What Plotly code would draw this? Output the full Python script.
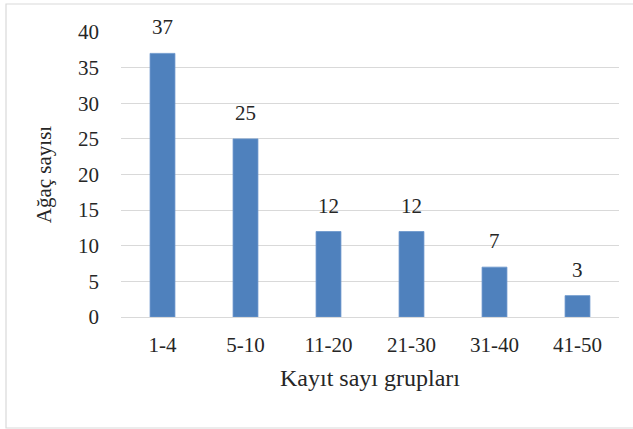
import plotly.graph_objects as go

# Number of trees per record-count group
groups = ["1-4", "5-10", "11-20", "21-30", "31-40", "41-50"]
tree_counts = [37, 25, 12, 12, 7, 3]
y_ticks = [0, 5, 10, 15, 20, 25, 30, 35, 40]

FONT = "Liberation Serif"
TEXT_COLOR = "#262626"
BAR_COLOR = "#4F81BD"
GRID_COLOR = "#D9D9D9"

fig = go.Figure(
    go.Bar(
        x=groups,
        y=tree_counts,
        marker=dict(color=BAR_COLOR, line=dict(color="#6A95CC", width=0.8)),
        width=0.3,
        hoverinfo="x+y",
    )
)

# Value labels sitting above each bar
for g, v in zip(groups, tree_counts):
    fig.add_annotation(
        x=g, y=v, text=str(v), showarrow=False,
        yanchor="bottom", yshift=12,
        font=dict(family=FONT, size=21, color=TEXT_COLOR),
    )

# Light frame around the whole chart
fig.add_shape(
    type="rect", xref="paper", yref="paper",
    x0=(6 - 121) / 498, x1=(640 - 121) / 498,
    y0=(317 - 428) / 285, y1=(317 - 4) / 285,
    line=dict(color="#D9D9D9", width=1.2), fillcolor="rgba(0,0,0,0)",
    layer="below",
)

fig.update_layout(
    width=633, height=429,
    margin=dict(l=121, r=14, t=32, b=112),
    paper_bgcolor="white", plot_bgcolor="white",
    font=dict(family=FONT, size=20, color=TEXT_COLOR),
    showlegend=False,
    xaxis=dict(
        title=dict(text="Kayıt sayı grupları", font=dict(size=24), standoff=13),
        tickfont=dict(size=21),
        showgrid=False, showline=False, zeroline=False,
        ticks="", ticklabelstandoff=13,
    ),
    yaxis=dict(
        title=dict(text="Ağaç sayısı", font=dict(size=21), standoff=20),
        range=[0, 40], tickvals=y_ticks,
        tickfont=dict(size=21),
        showgrid=True, gridcolor=GRID_COLOR, gridwidth=1.3,
        zeroline=True, zerolinecolor=GRID_COLOR, zerolinewidth=1.3,
        showline=False, ticks="", ticklabelstandoff=21,
    ),
)

fig.write_html("out.html")
